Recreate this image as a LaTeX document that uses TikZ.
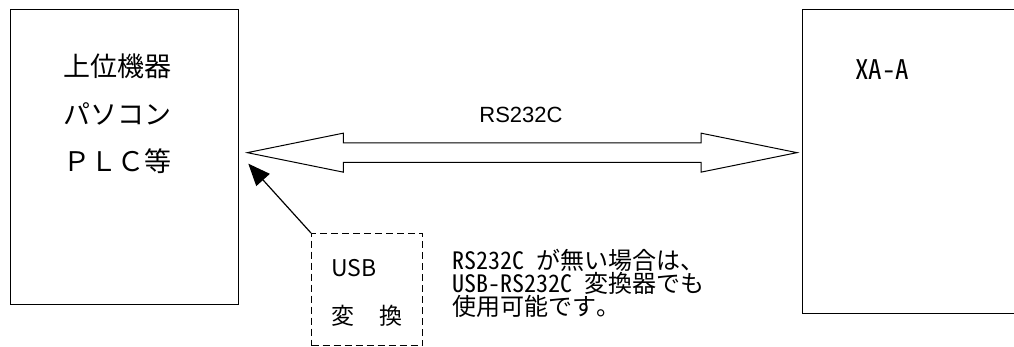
\documentclass[tikz,border=0pt]{standalone}
\usepackage{fontspec}
\setmainfont{Noto Sans CJK JP}
\newfontfamily\jp{Noto Sans CJK JP}
\newfontfamily\jpmono{Noto Sans Mono CJK JP}
\newfontfamily\arialfont{Liberation Sans}
\usetikzlibrary{arrows.meta,calc}
\tikzset{
  box/.style={draw=black, line width=1.3pt, rectangle, inner sep=0pt, anchor=north west},
  dbox/.style={draw=black, line width=1.2pt, dash pattern=on 7pt off 4pt, rectangle, inner sep=0pt, anchor=north west},
  lbl/.style={inner sep=0pt, anchor=west, align=left},
  big/.style={font=\jp\fontsize{27pt}{27pt}\selectfont},
  dblarrow/.style={draw=black, line width=1pt, fill=white, line join=miter},
  ptr/.style={draw=black, line width=1.2pt, -{Triangle[length=22pt,width=18pt]}},
}
\begin{document}
\begin{tikzpicture}[x=1pt,y=-1pt]
\path[clip] (0,0) rectangle (1014,346);
\fill[white] (0,0) rectangle (1014,346);
% boxes
\node[box, minimum width=228pt, minimum height=295pt] (host) at (10,9) {};
\node[box, minimum width=215pt, minimum height=304pt] (xa) at (802,9) {};
\node[dbox, minimum width=111pt, minimum height=112pt] (usb) at (311,233) {};
% texts in boxes
\node[lbl, big] (t1) at (63,66) {上位機器};
\node[lbl, big] (t2) at (63,114) {パソコン};
\node[lbl, big] (t3) at (63,161.5) {ＰＬＣ等};
\node[lbl, font=\jpmono\fontsize{27pt}{27pt}\selectfont] (t4) at (855,70) {XA-A};
\node[lbl, font=\jp\fontsize{23pt}{23pt}\selectfont] (t5) at (331,268.5) {USB};
\node[lbl, font=\jp\fontsize{23pt}{23pt}\selectfont] (t6) at (331,316) {変\hspace{25pt}換};
% note
\node[lbl, anchor=north west, font=\jpmono\fontsize{24pt}{23pt}\selectfont] (note) at (452,248.5) {RS232C が無い場合は、\\USB-RS232C 変換器でも\\使用可能です。};
% double arrow
\coordinate (L) at ($(host.east)+(8,-4.5)$);
\coordinate (R) at ($(xa.west)+(-5,-9)$);
\draw[dblarrow] (L) -- ++(96,-19.5) -- ++(0,9.75) -- ($(R)+(-96,-9.75)$) -- ++(0,-9.75) -- (R)
  -- ++(-96,19.5) -- ++(0,-9.75) -- ($(L)+(96,9.75)$) -- ++(0,9.75) -- cycle;
\node[inner sep=0pt, font=\arialfont\fontsize{22pt}{22pt}\selectfont] (rs) at (521,115) {RS232C};
% pointer arrow
\draw[ptr] (usb.north west) -- ($(L)+(1,11)$);
\end{tikzpicture}
\end{document}
